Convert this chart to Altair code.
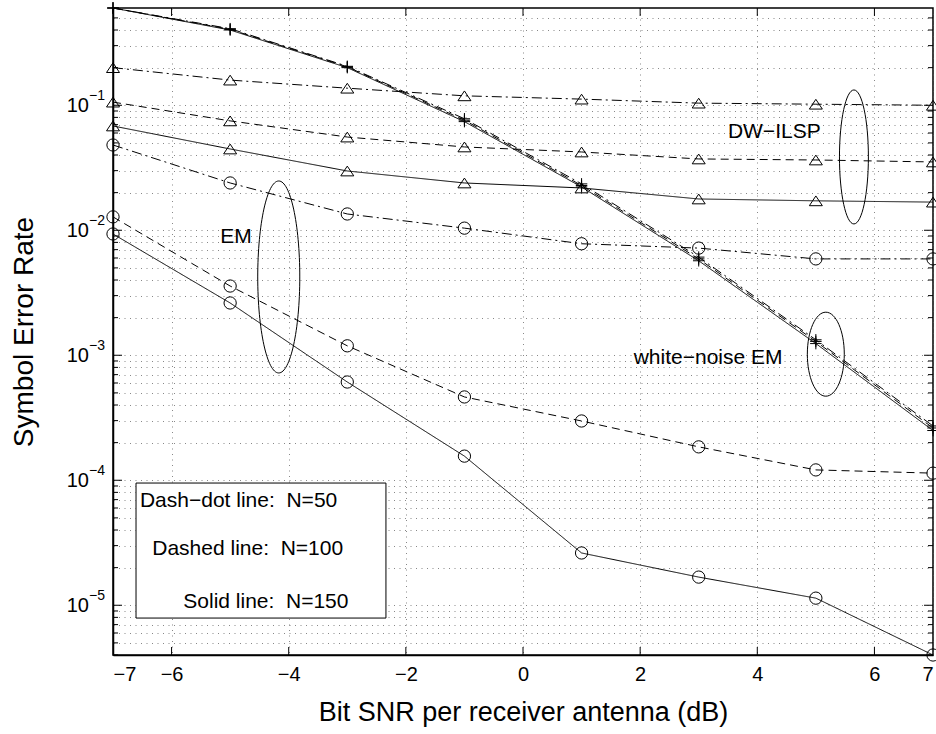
import altair as alt
import pandas as pd

# ---------------- data ----------------
snr = [-7, -5, -3, -1, 1, 3, 5, 7]

dw_50 = [0.200, 0.159, 0.137, 0.119, 0.112, 0.104, 0.102, 0.100]
dw_100 = [0.106, 0.075, 0.0557, 0.0464, 0.0423, 0.0372, 0.0365, 0.0352]
dw_150 = [0.0683, 0.0447, 0.0298, 0.0239, 0.0218, 0.0178, 0.0172, 0.0168]

em_50 = [0.0481, 0.0239, 0.0135, 0.0104, 0.0078, 0.0072, 0.0059, 0.0059]
em_100 = [0.0128, 0.00358, 0.00119, 0.000464, 0.000298, 0.000185, 0.000121, 0.000114]
em_150 = [0.00934, 0.00262, 0.000611, 0.000156, 2.62e-5, 1.68e-5, 1.14e-5, 4.0e-6]

wn_50 = [0.60, 0.41, 0.205, 0.078, 0.0235, 0.0061, 0.00133, 0.000272]
wn_100 = [0.60, 0.405, 0.203, 0.076, 0.0228, 0.0059, 0.00129, 0.000262]
wn_150 = [0.60, 0.40, 0.200, 0.074, 0.0222, 0.0057, 0.00124, 0.000250]

x_ticks = [-7, -6, -4, -2, 0, 2, 4, 6, 7]
x_major = [-6, -4, -2, 0, 2, 4, 6]
y_major = [1e-5, 1e-4, 1e-3, 1e-2, 1e-1]
y_exp = ["\u22125", "\u22124", "\u22123", "\u22122", "\u22121"]
y_minor = [m * 10.0 ** k for k in range(-6, 0) for m in range(2, 10)
           if 4e-6 <= m * 10.0 ** k <= 0.6]

ann_text = ["DW\u2212ILSP", "EM", "white\u2212noise EM"]
ann_x = [4.29, -4.9, 3.16]
ann_y = [0.0611, 0.00883, 0.000951]

legend_lines = ["Dash\u2212dot line:\u00a0 N=50", "Dashed line:\u00a0 N=100", "Solid line:\u00a0 N=150"]
legend_x = [-6.54, -6.33, -5.80]
legend_y = [6.83e-5, 2.82e-5, 1.07e-5]
legend_box = {"x": -6.607, "x2": -2.34, "y": 9.5e-5, "y2": 7.9e-6}

ell_x = [-4.17, 5.65, 5.17]
ell_y = [0.00423, 0.0386, 0.00102]
ell_ratio = [0.219, 0.216, 0.44]     # width / height
ell_size = [36864, 17956, 7056]

# ---------------- frames ----------------
series = [
    ("dw", "dashdot", dw_50), ("dw", "dashed", dw_100), ("dw", "solid", dw_150),
    ("em", "dashdot", em_50), ("em", "dashed", em_100), ("em", "solid", em_150),
    ("wn", "dashdot", wn_50), ("wn", "dashed", wn_100), ("wn", "solid", wn_150),
]
rows = []
for method, style, vals in series:
    for x, v in zip(snr, vals):
        rows.append({"snr": x, "ser": v, "method": method, "style": style,
                     "sid": method + "_" + style})
df = pd.DataFrame(rows)

W, H = 820, 647
FONT = "Liberation Sans"
xs = alt.Scale(domain=[-7, 7], nice=False, zero=False)
ys = alt.Scale(type="log", domain=[4e-6, 0.6], nice=False)

X_TITLE = "Bit SNR per receiver antenna (dB)"
Y_TITLE = "Symbol Error Rate"
x_axis = alt.Axis(values=x_ticks, grid=True, ticks=False, tickSize=0,
                  labelFontSize=20, labelPadding=9, labelColor="black",
                  titleFontSize=27, titleFontWeight="normal", titleColor="black",
                  titleY=57, titleBaseline="middle",
                  gridDash=[1, 4.5], gridColor="#555", gridOpacity=0.7,
                  domainColor="black", domainWidth=1.5)
y_axis = alt.Axis(values=y_major + y_minor, grid=True, ticks=False, tickSize=0,
                  labels=False,
                  titleFontSize=28, titleFontWeight="normal", titleColor="black",
                  titleX=-89, titleY=H / 2, titleBaseline="middle",
                  titleAlign="center",
                  gridDash=[1, 4.5], gridColor="#555", gridOpacity=0.7,
                  domainColor="black", domainWidth=1.5)


def X(f):
    return alt.X(f, scale=xs, axis=x_axis, title=X_TITLE)


def Y(f):
    return alt.Y(f, scale=ys, axis=y_axis, title=Y_TITLE)


dash_scale = alt.Scale(domain=["solid", "dashed", "dashdot"],
                       range=[[1, 0], [8, 5], [10, 4, 2, 4]])

lines = alt.Chart(df).mark_line(color="black", strokeWidth=1).encode(
    x=X("snr:Q"), y=Y("ser:Q"),
    detail="sid:N",
    strokeDash=alt.StrokeDash("style:N", scale=dash_scale, legend=None),
)

tri = "M0,-0.75L1,0.75L-1,0.75Z"
plus = "M-1,0L1,0M0,-1L0,1"
points = alt.Chart(df).mark_point(filled=False, color="black", strokeWidth=1, opacity=1).encode(
    x=X("snr:Q"), y=Y("ser:Q"),
    shape=alt.Shape("method:N", scale=alt.Scale(domain=["dw", "em", "wn"],
                                                  range=[tri, "circle", plus]), legend=None),
    size=alt.Size("method:N", scale=alt.Scale(domain=["dw", "em", "wn"],
                                                range=[169, 132, 110]), legend=None),
)

# inward ticks
xt = pd.DataFrame({"t": x_major})
ytM = pd.DataFrame({"t": y_major})
ytm = pd.DataFrame({"t": y_minor})
tick_layers = []
for y0, y1 in [(H, H - 8), (0, 8)]:
    tick_layers.append(alt.Chart(xt).mark_rule(color="black", strokeWidth=1).encode(
        x=X("t:Q"), y=alt.value(y0), y2=alt.value(y1)))
for d, ln in [(ytM, 9), (ytm, 5)]:
    for x0, x1 in [(0, ln), (W, W - ln)]:
        tick_layers.append(alt.Chart(d).mark_rule(color="black", strokeWidth=1).encode(
            y=Y("t:Q"), x=alt.value(x0), x2=alt.value(x1)))

# y tick labels (10^k)
ylab = pd.DataFrame({"t": y_major, "e": y_exp})
ylab_base = alt.Chart(ylab).mark_text(text="10", fontSize=20, align="right",
                                      baseline="middle", dx=-24, dy=1, font=FONT,
                                      color="black").encode(
    y=Y("t:Q"), x=alt.value(0))
ylab_exp = alt.Chart(ylab).mark_text(fontSize=14, align="left", baseline="middle",
                                     dx=-24, dy=-9, font=FONT, color="black").encode(
    y=Y("t:Q"), x=alt.value(0), text="e:N")

# annotations
ann = pd.DataFrame({"x": ann_x, "y": ann_y, "t": ann_text})
ann_layer = alt.Chart(ann).mark_text(fontSize=21, font=FONT, color="black",
                                     align="center", baseline="middle").encode(
    x=X("x:Q"), y=Y("y:Q"), text="t:N")

# ellipses
ell_layers = []
k = 0.5523
for cx, cy, r, s in zip(ell_x, ell_y, ell_ratio, ell_size):
    a = r
    path = (f"M0,-1C{k*a:.4f},-1 {a:.4f},{-k:.4f} {a:.4f},0"
            f"C{a:.4f},{k:.4f} {k*a:.4f},1 0,1"
            f"C{-k*a:.4f},1 {-a:.4f},{k:.4f} {-a:.4f},0"
            f"C{-a:.4f},{-k:.4f} {-k*a:.4f},-1 0,-1Z")
    e = pd.DataFrame({"x": [cx], "y": [cy]})
    ell_layers.append(alt.Chart(e).mark_point(shape=path, size=s, filled=False,
                                              color="black", strokeWidth=1, opacity=1).encode(
        x=X("x:Q"), y=Y("y:Q")))

# legend box
box = pd.DataFrame([legend_box])
box_layer = alt.Chart(box).mark_rect(fill="white", stroke="black", strokeWidth=1).encode(
    x=X("x:Q"), x2="x2:Q", y=Y("y:Q"), y2="y2:Q")
leg = pd.DataFrame({"x": legend_x, "y": legend_y, "t": legend_lines})
leg_layer = alt.Chart(leg).mark_text(fontSize=21, font=FONT, color="black",
                                     align="left", baseline="middle").encode(
    x=X("x:Q"), y=Y("y:Q"), text="t:N")

chart = alt.layer(lines, points, *ell_layers, ann_layer, box_layer, leg_layer,
                  *tick_layers, ylab_base, ylab_exp).properties(
    width=W, height=H,
    autosize=alt.AutoSizeParams(type="none"),
    padding={"left": 113, "top": 8, "right": 3, "bottom": 79},
    background="white",
).configure(font=FONT).configure_view(stroke="black", strokeWidth=1.5).configure_axis(
    labelFont=FONT, titleFont=FONT)

chart.save("out.html", embed_options={"renderer": "svg", "actions": False})
